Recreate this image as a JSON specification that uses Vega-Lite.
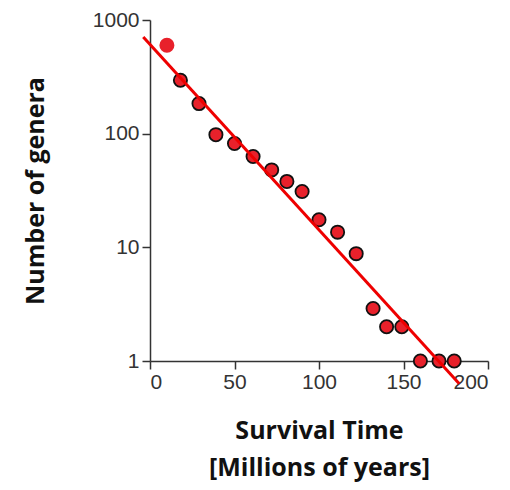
{
  "$schema": "https://vega.github.io/schema/vega-lite/v6.json",
  "autosize": {"type": "none"},
  "padding": {"left": 150, "top": 20, "right": 22, "bottom": 129},
  "width": 338,
  "height": 341,
  "background": "white",
  "config": {
    "view": {"stroke": null},
    "axis": {
      "grid": false,
      "domainColor": "#333333",
      "domainWidth": 1.5,
      "tickColor": "#333333",
      "tickWidth": 1.5,
      "tickSize": 8,
      "labelFont": "Liberation Sans",
      "labelFontSize": 21,
      "labelColor": "#333333",
      "titleFont": "Open Sans",
      "titleFontWeight": "bold",
      "titleFontSize": 25,
      "titleColor": "#111111"
    }
  },
  "layer": [
    {
      "data": {"values": [
        {"time": 10, "genera": 600, "first": "yes"},
        {"time": 18, "genera": 295, "first": "no"},
        {"time": 29, "genera": 184, "first": "no"},
        {"time": 39, "genera": 98, "first": "no"},
        {"time": 50, "genera": 82, "first": "no"},
        {"time": 61, "genera": 63, "first": "no"},
        {"time": 72, "genera": 48, "first": "no"},
        {"time": 81, "genera": 38, "first": "no"},
        {"time": 90, "genera": 31, "first": "no"},
        {"time": 100, "genera": 17.5, "first": "no"},
        {"time": 111, "genera": 13.6, "first": "no"},
        {"time": 122, "genera": 8.8, "first": "no"},
        {"time": 132, "genera": 2.9, "first": "no"},
        {"time": 140, "genera": 2, "first": "no"},
        {"time": 149, "genera": 2, "first": "no"},
        {"time": 160, "genera": 1, "first": "no"},
        {"time": 171, "genera": 1, "first": "no"},
        {"time": 180, "genera": 1, "first": "no"}
      ]},
      "mark": {"type": "point", "filled": true, "fill": "#e8212b", "size": 175, "opacity": 1, "strokeWidth": 1.8, "clip": false},
      "encoding": {
        "x": {"field": "time", "type": "quantitative",
              "scale": {"domain": [0, 200], "nice": false},
              "axis": {"values": [0, 50, 100, 150, 200], "labelPadding": 2, "title": ["Survival Time", "[Millions of years]"], "titlePadding": 26, "titleLineHeight": 37}},
        "y": {"field": "genera", "type": "quantitative",
              "scale": {"type": "log", "domain": [1, 1000], "nice": false},
              "axis": {"values": [1, 10, 100, 1000], "format": "d", "labelPadding": 3, "title": "Number of genera", "titlePadding": 44}},
        "stroke": {"field": "first", "type": "nominal",
                   "scale": {"domain": ["yes", "no"], "range": ["#e8212b", "#111111"]},
                   "legend": null}
      }
    },
    {
      "data": {"values": [
        {"time": -4, "genera": 710},
        {"time": 183, "genera": 0.63}
      ]},
      "mark": {"type": "line", "color": "#ee0000", "strokeWidth": 3, "clip": false},
      "encoding": {
        "x": {"field": "time", "type": "quantitative"},
        "y": {"field": "genera", "type": "quantitative"}
      }
    }
  ]
}
